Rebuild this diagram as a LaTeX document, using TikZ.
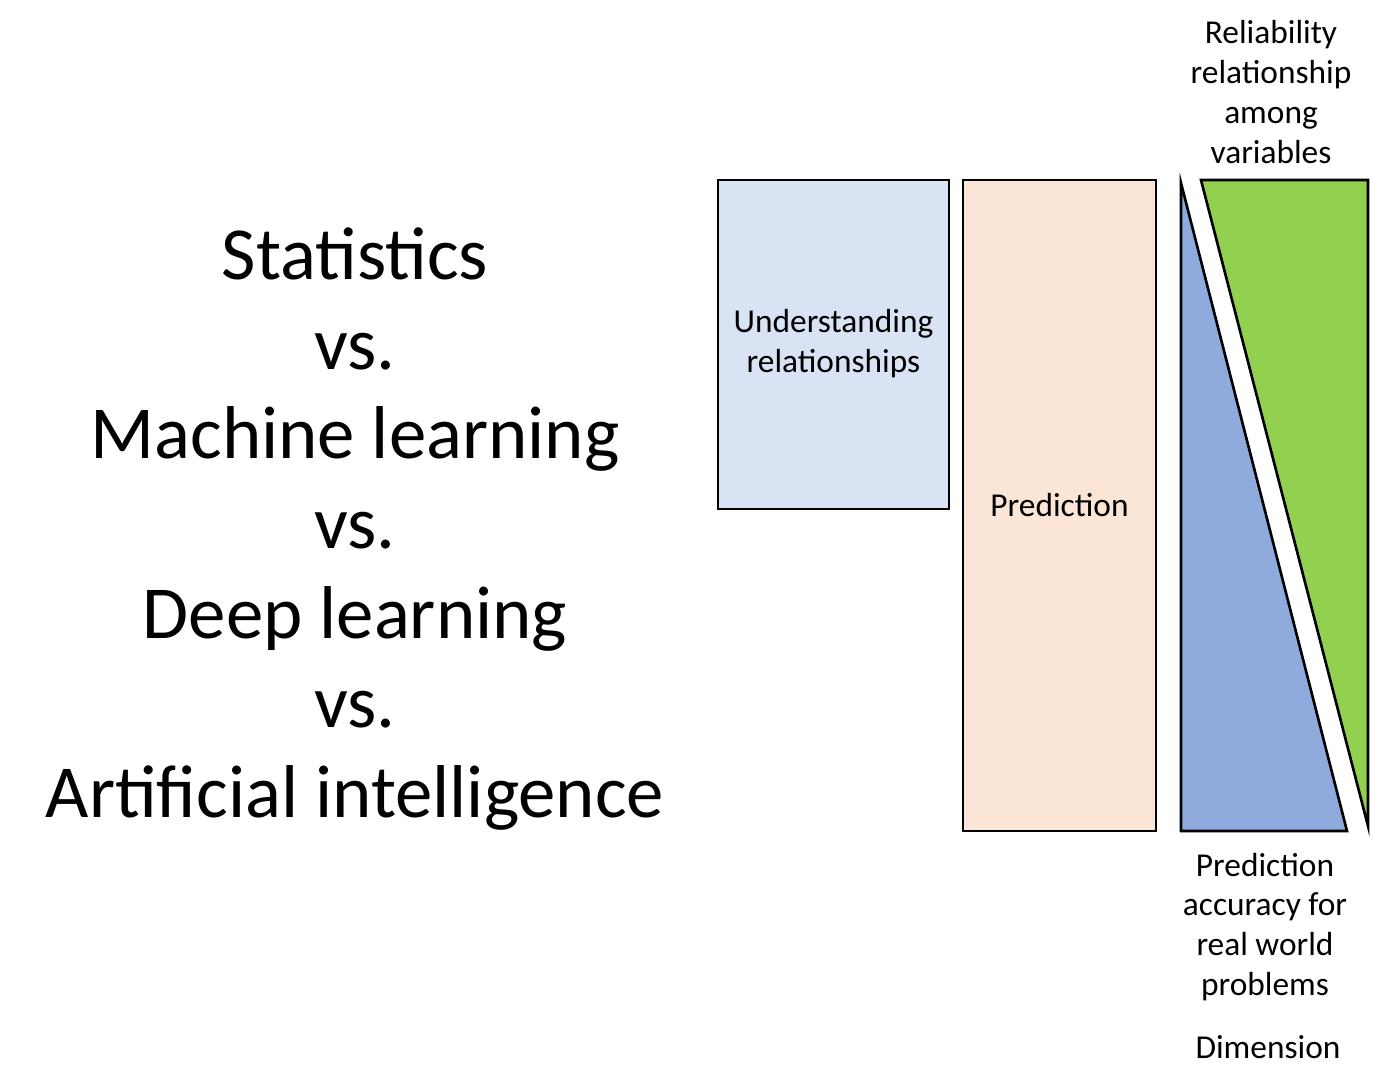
\documentclass[tikz,border=0pt]{standalone}
\usepackage{fontspec}
\setmainfont{Carlito}
\usetikzlibrary{positioning}
\definecolor{boxblue}{HTML}{DAE3F3}
\definecolor{boxpeach}{HTML}{FBE5D6}
\definecolor{triblue}{HTML}{8FAADC}
\definecolor{trigreen}{HTML}{92D050}

\begin{document}
\begin{tikzpicture}[x=0.02cm, y=-0.02cm,
  small/.style={font=\fontsize{19}{22.7}\selectfont, align=center, inner sep=0pt},
  big/.style={font=\fontsize{42.6}{51}\selectfont, align=center, inner sep=0pt},
  panel/.style={draw, line width=1pt, small}]
\useasboundingbox (0,0) rectangle (1374,1087);
\node[big] (title) at (355,529) {Statistics\\vs.\\Machine learning\\vs.\\Deep learning\\vs.\\Artificial intelligence};
\node[panel, fill=boxblue, minimum width=4.62cm, minimum height=6.58cm] (understand) at (833.5,344.5) {\raisebox{-3pt}{\begin{tabular}{@{}c@{}}Understanding\\relationships\end{tabular}}};
\node[panel, fill=boxpeach, minimum width=3.86cm, minimum height=13.02cm] (predict) at (1059.5,505.5) {\raisebox{-1pt}{Prediction}};
% the two wedges
\filldraw[fill=triblue, line width=1.5pt] (1181,183) -- (1181,831) -- (1347,831) -- cycle;
\filldraw[fill=trigreen, line width=1.5pt] (1201,180) -- (1368,180) -- (1368,826) -- cycle;
\node[small] (reliab) at (1271,92) {Reliability\\relationship\\among\\variables};
\node[small] (accuracy) at (1265,927) {Prediction\\accuracy for\\real world\\problems};
\node[small] (dim) at (1268,1047) {Dimension};
\end{tikzpicture}
\end{document}
